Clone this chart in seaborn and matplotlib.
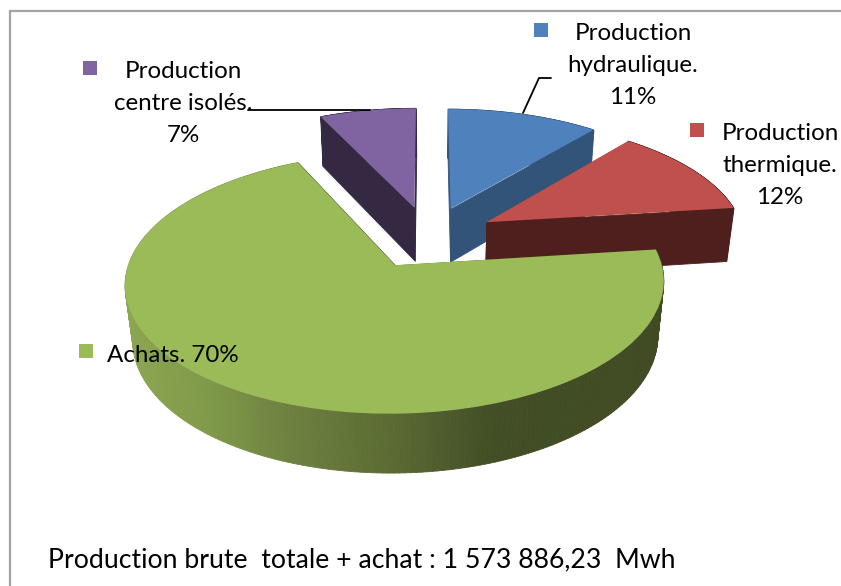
import numpy as np
import matplotlib
matplotlib.use("Agg")
import matplotlib.pyplot as plt
import seaborn as sns
from matplotlib.collections import PolyCollection
from matplotlib.colors import LinearSegmentedColormap
from matplotlib.patches import Rectangle
from matplotlib.transforms import Transform

# ---- data ----
categories = ["Production hydraulique.", "Production thermique.", "Achats.", "Production centre isolés."]
shares = [11, 12, 70, 7]
top_colors = ["#4F81BD", "#C0504D", "#9BBB59", "#8064A2"]
side_colors = ["#325479", "#4F1F1D", "#404B24", "#352842"]
footer = "Production brute  totale + achat : 1 573 886,23  Mwh"

sns.set_theme(style="white")
plt.rcParams["font.family"] = ["Lato", "DejaVu Sans"]
palette = sns.color_palette(top_colors)

# projection of the pie plane to image pixels
CX, CY, A, B, K, DEPTH, SHRINK = 428.5, 237.0, 258.5, 120.0, 0.135, 55.5, 0.025


def project(xy, z=0.0):
    xy = np.asarray(xy, float)
    u, v = xy[..., 0], xy[..., 1]
    w = 1 + K * v + SHRINK * z
    return np.stack([CX + A * u / w, CY + (-B * v + DEPTH * z) / w], axis=-1)


class PieProjection(Transform):
    input_dims = output_dims = 2
    is_separable = False
    has_inverse = False

    def transform_non_affine(self, values):
        return project(values)


fig = plt.figure(figsize=(8.41, 5.86), dpi=100, facecolor="white")
ax = fig.add_axes([0, 0, 1, 1])
wedges, _ = ax.pie(shares, colors=palette, startangle=90, counterclock=False,
                   explode=[0.26] * len(shares), radius=1.0,
                   wedgeprops={"linewidth": 0, "edgecolor": "none"})
ax.set_aspect("auto")
ax.set_xlim(0, 841)
ax.set_ylim(586, 0)
ax.axis("off")

green_ramp = LinearSegmentedColormap.from_list(
    "side", [(0.0, "#8CA651"), (0.15, "#809A4A"), (0.30, "#6E8240"),
             (0.50, "#5A6A33"), (0.68, "#424E25"), (1.0, "#404B24")])
proj = PieProjection() + ax.transData


def rim(wedge, theta):
    t = np.radians(theta)
    return np.asarray(wedge.center) + wedge.r * np.stack([np.cos(t), np.sin(t)], axis=-1)


def quad(a, b):
    return np.array([project(a, 0), project(b, 0), project(b, 1), project(a, 1)])


draw_order = [3, 0, 1, 2]
for rank, i in enumerate(draw_order):
    w = wedges[i]
    z0 = 2 + rank * 3
    thetas = np.linspace(w.theta1, w.theta2, 241)
    pts = rim(w, thetas)
    polys = [quad(pts[j], pts[j + 1]) for j in range(len(pts) - 1)]
    if i == 2:
        mids = np.array([p[:, 0].mean() for p in polys])
        colors = green_ramp(np.clip((mids - 125) / 540, 0, 1))
    else:
        colors = [side_colors[i]] * len(polys)
    ax.add_collection(PolyCollection(polys, facecolors=colors, edgecolors=colors,
                                     linewidths=0.6, zorder=z0))
    c = np.asarray(w.center)
    for th, dz in ((w.theta2, 0.0), (w.theta1, 0.1)):
        ax.add_collection(PolyCollection([quad(c, rim(w, th))], facecolors=side_colors[i],
                                         edgecolors=side_colors[i], linewidths=0.6,
                                         zorder=z0 + 0.5 + dz))
    w.set_transform(proj)
    w.set_zorder(z0 + 1)
    w.set_clip_on(False)

# chart frame (cropped on the right and bottom)
ax.plot([10.5, 10.5, 841], [586, 10.5, 10.5], color="#A3A3A3", lw=1.6, zorder=20,
        solid_joinstyle="miter")

# leader lines
ax.plot([248, 370], [109.5, 109.5], color="black", lw=1.3, zorder=21)
ax.plot([551, 539, 523], [78, 78, 113], color="black", lw=1.3, zorder=21)

# legend keys and labels
FS = 17.4
keys = {3: (83, 61), 0: (534, 23), 1: (690, 123), 2: (79, 344)}
for i, (x, y) in keys.items():
    ax.add_patch(Rectangle((x, y), 14.5, 14, facecolor=top_colors[i], edgecolor="none", zorder=22))

labels = [
    (183, [(71, "Production"), (103, "centre isolés."), (135, "7%")]),
    (633, [(33, "Production"), (65, "hydraulique."), (97, "11%")]),
    (780, [(134, "Production"), (166, "thermique."), (198, "12%")]),
]
for xc, lines in labels:
    for y, s in lines:
        ax.text(xc, y, s, ha="center", va="center", fontsize=FS, color="black", zorder=23)
ax.text(107, 356, "Achats. 70%", ha="left", va="center", fontsize=FS, color="black", zorder=23)
ax.text(48, 560, footer, ha="left", va="center", fontsize=19.2, color="black", zorder=23)

fig.savefig("out.png", dpi=100)
